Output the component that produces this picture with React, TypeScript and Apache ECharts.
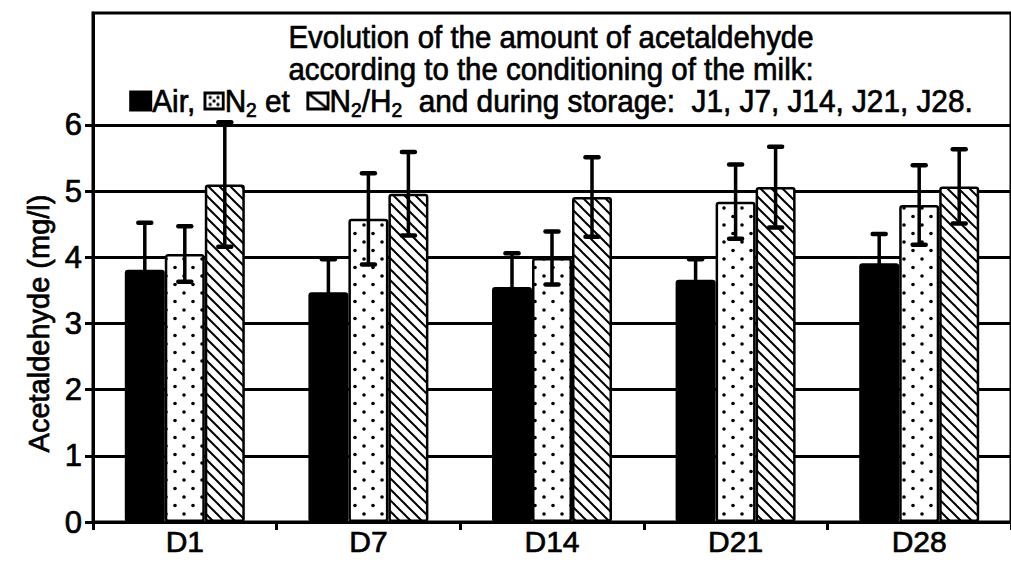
import React, { useEffect, useRef } from 'react';
import * as echarts from 'echarts';

const categories = ['D1', 'D7', 'D14', 'D21', 'D28'];
const airValues = [3.81, 3.47, 3.55, 3.66, 3.91];
const airErrors = [0.71, 0.5, 0.51, 0.31, 0.44];
const n2Values = [4.05, 4.58, 3.99, 4.84, 4.79];
const n2Errors = [0.42, 0.69, 0.4, 0.56, 0.6];
const n2h2Values = [5.1, 4.96, 4.91, 5.06, 5.07];
const n2h2Errors = [0.94, 0.63, 0.6, 0.61, 0.56];
const yTickValues = [0, 1, 2, 3, 4, 5, 6];
const seriesNames = ['Air', 'N2', 'N2/H2'];

const titleLine1 = 'Evolution of the amount of acetaldehyde';
const titleLine2 = 'according to the conditioning of the milk:';

const BAR_W = 40;
const FONT = "'Liberation Sans', Arial, Helvetica, sans-serif";

function dotTile(): HTMLCanvasElement {
  const c = document.createElement('canvas');
  c.width = 18;
  c.height = 17;
  const g = c.getContext('2d')!;
  g.fillStyle = '#fff';
  g.fillRect(0, 0, 18, 17);
  g.fillStyle = '#000';
  [[4, 4], [13, 12.5]].forEach(([x, y]) => {
    g.beginPath();
    g.arc(x, y, 1.8, 0, Math.PI * 2);
    g.fill();
  });
  return c;
}

function hatchTile(): HTMLCanvasElement {
  const s = 11;
  const c = document.createElement('canvas');
  c.width = s;
  c.height = s;
  const g = c.getContext('2d')!;
  g.fillStyle = '#fff';
  g.fillRect(0, 0, s, s);
  g.strokeStyle = '#000';
  g.lineWidth = 2;
  [-s, 0, s].forEach((k) => {
    g.beginPath();
    g.moveTo(k - 1, -1);
    g.lineTo(k + s + 1, s + 1);
    g.stroke();
  });
  return c;
}

function dotIcon(): string {
  const c = document.createElement('canvas');
  c.width = 22;
  c.height = 19;
  const g = c.getContext('2d')!;
  g.fillStyle = '#fff';
  g.fillRect(0, 0, 22, 19);
  g.strokeStyle = '#000';
  g.lineWidth = 3;
  g.strokeRect(1.5, 1.5, 19, 16);
  g.fillStyle = '#000';
  [[7, 6], [15, 6], [11, 9.5], [7, 13], [15, 13]].forEach(([x, y]) => {
    g.beginPath();
    g.arc(x, y, 1.7, 0, Math.PI * 2);
    g.fill();
  });
  return c.toDataURL();
}

function hatchIcon(): string {
  const c = document.createElement('canvas');
  c.width = 24;
  c.height = 19;
  const g = c.getContext('2d')!;
  g.fillStyle = '#fff';
  g.fillRect(0, 0, 24, 19);
  g.strokeStyle = '#000';
  g.lineWidth = 3;
  g.strokeRect(1.5, 1.5, 21, 16);
  g.lineWidth = 2.6;
  g.beginPath();
  g.moveTo(2, 2);
  g.lineTo(22, 17);
  g.stroke();
  return c.toDataURL();
}

export default function App() {
  const ref = useRef<HTMLDivElement>(null);

  useEffect(() => {
    if (!ref.current) return;
    const chart = echarts.init(ref.current, undefined, { renderer: 'svg' });

    const groups = [
      { values: airValues, errors: airErrors },
      { values: n2Values, errors: n2Errors },
      { values: n2h2Values, errors: n2h2Errors },
    ];
    const errData: number[][] = [];
    groups.forEach((gr, gi) =>
      gr.values.forEach((v, ci) => errData.push([ci, v - gr.errors[ci], v + gr.errors[ci], gi]))
    );

    const fills: any[] = [
      '#000',
      { image: dotTile(), repeat: 'repeat' },
      { image: hatchTile(), repeat: 'repeat' },
    ];

    const barSeries = groups.map((gr, gi) => ({
      name: seriesNames[gi],
      type: 'bar',
      data: gr.values,
      barWidth: BAR_W,
      barGap: '0%',
      z: 3,
      itemStyle: {
        color: fills[gi],
        borderColor: '#000',
        borderWidth: 2.5,
        borderRadius: 2,
      },
    }));

    const line3 =
      '{b| }{t|Air, }{d| }{t|N}{s|2}{t| et  }{h| }{t|N}{s|2}{t|/H}{s|2}{t|  and during storage:  J1, J7, J14, J21, J28.}';

    const bold = { textBorderColor: '#000', textBorderWidth: 0.7 };
    const zBold = { fill: '#000', stroke: '#000', lineWidth: 0.7 };

    chart.setOption({
      animation: false,
      backgroundColor: '#fff',
      grid: {
        left: 93,
        right: -4,
        top: 13,
        bottom: 43,
        show: true,
        borderColor: '#000',
        borderWidth: 3,
        backgroundColor: 'transparent',
      },
      xAxis: {
        type: 'category',
        data: categories,
        axisLine: { lineStyle: { color: '#000', width: 3 } },
        axisTick: { show: true, length: 8, lineStyle: { color: '#000', width: 3 } },
        axisLabel: { color: '#000', fontSize: 30, fontFamily: FONT, margin: 4, ...bold },
        splitLine: { show: false },
      },
      yAxis: {
        type: 'value',
        min: 0,
        max: 7.69,
        interval: 1,
        name: 'Acetaldehyde (mg/l)',
        nameLocation: 'middle',
        nameGap: 38,
        nameTextStyle: {
          color: '#000',
          fontSize: 29,
          fontFamily: FONT,
          padding: [0, 112, 0, 0],
          ...bold,
        },
        axisLine: { show: true, lineStyle: { color: '#000', width: 3 } },
        axisTick: { show: true, length: 8, lineStyle: { color: '#000', width: 3 }, customValues: yTickValues },
        axisLabel: { color: '#000', fontSize: 31, fontFamily: FONT, margin: 11, customValues: yTickValues, ...bold },
        splitLine: { show: true, lineStyle: { color: '#000', width: 3 } },
      },
      graphic: [
        {
          type: 'text',
          x: 551,
          y: 37,
          scaleX: 0.92,
          z: 10,
          style: {
            text: titleLine1,
            fontSize: 32,
            fontFamily: FONT,
            ...zBold,
            textAlign: 'center',
            textVerticalAlign: 'middle',
          },
        },
        {
          type: 'text',
          x: 551,
          y: 69,
          scaleX: 0.92,
          z: 10,
          style: {
            text: titleLine2,
            fontSize: 32,
            fontFamily: FONT,
            ...zBold,
            textAlign: 'center',
            textVerticalAlign: 'middle',
          },
        },
        {
          type: 'text',
          x: 551,
          y: 101,
          scaleX: 0.96,
          z: 10,
          style: {
            text: line3,
            fontFamily: FONT,
            fill: '#000',
            textAlign: 'center',
            textVerticalAlign: 'middle',
            rich: {
              t: { fontSize: 31, fontFamily: FONT, lineHeight: 32, ...zBold },
              s: { fontSize: 20, fontFamily: FONT, lineHeight: 38, verticalAlign: 'bottom', ...zBold },
              b: { width: 24, height: 21, backgroundColor: '#000' },
              d: { width: 22, height: 19, backgroundColor: { image: dotIcon() } },
              h: { width: 24, height: 19, backgroundColor: { image: hatchIcon() } },
            },
          },
        },
      ],
      series: [
        ...barSeries,
        {
          type: 'custom',
          name: 'errors',
          z: 5,
          data: errData,
          encode: { x: 0, y: [1, 2] },
          renderItem: (params: any, api: any) => {
            const ci = api.value(0);
            const lo = api.value(1);
            const hi = api.value(2);
            const gi = api.value(3);
            const top = api.coord([ci, hi]);
            const bot = api.coord([ci, lo]);
            const x = top[0] + (gi - 1) * BAR_W;
            const st = { stroke: '#000', lineWidth: 3.5, lineCap: 'round' };
            return {
              type: 'group',
              children: [
                { type: 'line', shape: { x1: x, y1: top[1], x2: x, y2: bot[1] }, style: st },
                { type: 'line', shape: { x1: x - 6.5, y1: top[1], x2: x + 6.5, y2: top[1] }, style: { ...st, lineWidth: 4.5 } },
                { type: 'line', shape: { x1: x - 6.5, y1: bot[1], x2: x + 6.5, y2: bot[1] }, style: { ...st, lineWidth: 4.5 } },
              ],
            };
          },
        },
      ],
    });

    return () => chart.dispose();
  }, []);

  return (
    <div
      ref={ref}
      style={{ position: 'fixed', left: 0, top: 0, width: 1011, height: 565, background: '#fff' }}
    />
  );
}
